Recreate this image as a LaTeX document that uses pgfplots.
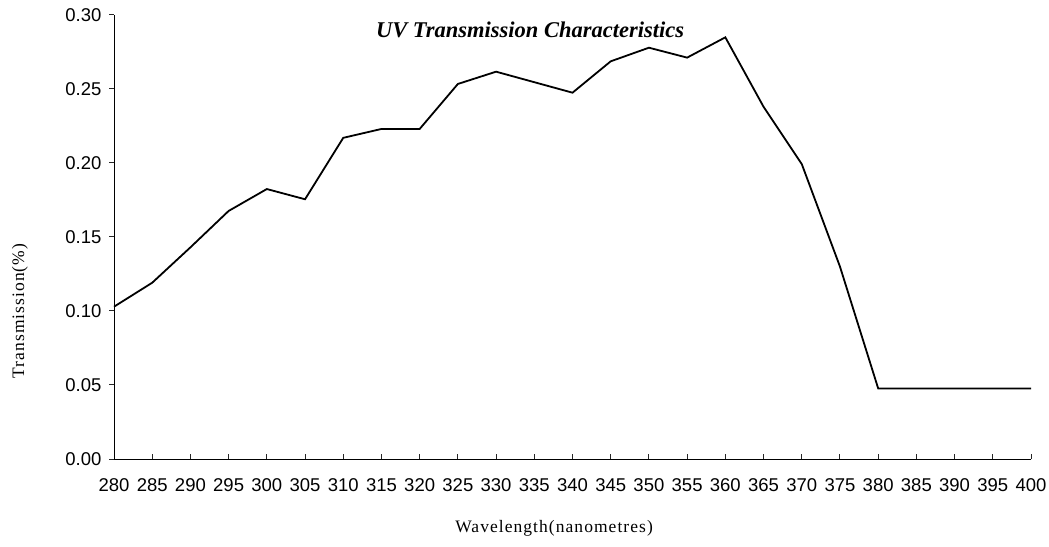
\documentclass[border=0pt]{standalone}
\usepackage{pgfplots}
\pgfplotsset{compat=1.18}
\usepackage{fontspec}
\setmainfont{Liberation Serif}
\setsansfont{Liberation Sans}
\begin{document}
\begin{tikzpicture}[x=1pt,y=1pt]
\path[use as bounding box] (0,0) rectangle (1049,546);
\begin{axis}[
  at={(114pt,87pt)}, anchor=south west,
  scale only axis, width=917pt, height=444pt,
  xmin=280, xmax=400, ymin=0, ymax=0.30,
  axis x line*=bottom, axis y line*=left,
  axis line style={-, line width=1pt, black},
  xtick={280,285,...,400},
  ytick={0,0.05,...,0.30},
  xtick align=inside, ytick align=outside,
  major tick length=5pt,
  tick style={line width=1pt, black!85},
  /pgf/number format/assume math mode=true,
  ticklabel style={font=\sffamily\fontsize{18.5}{20}\selectfont},
  xticklabel style={/pgf/number format/1000 sep={}, yshift=-16pt},
  yticklabel style={/pgf/number format/.cd, fixed, fixed zerofill, precision=2, /tikz/xshift=-4pt},
  title={UV Transmission Characteristics},
  title style={font=\bfseries\itshape\fontsize{22.5}{24}\selectfont, at={(axis description cs:0.4537,0.952)}, anchor=center},
  xlabel={Wavelength(nanometres)},
  xlabel style={font=\addfontfeature{LetterSpace=6}\fontsize{17.5}{20}\selectfont, at={(axis description cs:0.4799,-0.1554)}, anchor=center},
  ylabel={Transmission(\%)},
  ylabel style={font=\addfontfeature{LetterSpace=6}\fontsize{17.5}{20}\selectfont, at={(axis description cs:-0.1026,0.333)}, anchor=center},
  clip=false,
]
\addplot[black, line width=1.8pt, mark=none] coordinates {
(280,0.1029) (285,0.1191) (290,0.1430) (295,0.1676) (300,0.1824)
(305,0.1755) (310,0.2170) (315,0.2230) (320,0.2230) (325,0.2534)
(330,0.2617) (335,0.2546) (340,0.2475) (345,0.2687) (350,0.2779)
(355,0.2712) (360,0.2849) (365,0.2380) (370,0.1993) (375,0.1300)
(380,0.0477) (385,0.0477) (390,0.0477) (395,0.0477) (400,0.0477)
};
\end{axis}
\end{tikzpicture}
\end{document}
